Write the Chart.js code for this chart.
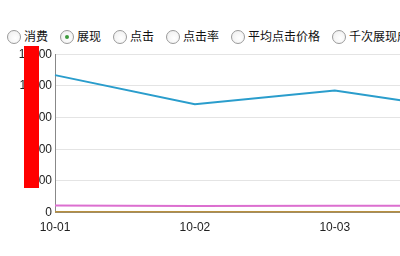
<!DOCTYPE html>
<html>
<head>
<meta charset="utf-8">
<script src="https://cdn.jsdelivr.net/npm/chart.js@4"></script>
<style>
  body { margin: 0; background: #fff; width: 400px; height: 256px; overflow: hidden; position: relative; }
  #radios { position: absolute; left: 7px; top: 27px; white-space: nowrap; font: 12px/18px "Noto Sans CJK SC", sans-serif; color: #111; }
  #radios span { display: inline-block; margin-right: 12px; }
  #radios i { display: inline-block; width: 14px; height: 14px; border: 1px solid #9a9a9a; border-radius: 50%; vertical-align: -3px; margin-right: 3px; box-sizing: border-box; background: radial-gradient(circle at 60% 60%, #ffffff 0, #ececec 100%); position: relative; }
  #radios i.on::after { content: ""; position: absolute; left: 4px; top: 4px; width: 4px; height: 4px; border-radius: 50%; background: #3c9a3c; }
  #wrap { position: absolute; left: 0; top: 44px; width: 400px; height: 199px; overflow: hidden; }
  #redact { position: absolute; left: 24px; top: 46px; width: 15px; height: 142px; background: #f00; }
</style>
</head>
<body>
<div id="radios"></div>
<div id="wrap"><div style="width:498px;height:199px"><canvas id="lineChart"></canvas></div></div>
<div id="redact"></div>
<script>
// radio style selector above the chart
const options = ["消费", "展现", "点击", "点击率", "平均点击价格", "千次展现成本"];
const selected = "展现";

const dates = ["10-01", "10-02", "10-03", "10-04"];
const impressions = [12150, 9580, 10800, 8950];
const clicks = [620, 590, 610, 600];
const cost = [50, 45, 48, 46];

const yMax = 14000;
const yStep = 2800;

document.getElementById("radios").innerHTML = options
  .map((o) => `<span><i class="${o === selected ? "on" : ""}"></i>${o}</span>`)
  .join("");

const ctx = document.getElementById("lineChart").getContext("2d");
new Chart(ctx, {
  type: "line",
  data: {
    labels: dates,
    datasets: [
      { label: "展现", data: impressions, borderColor: "#2a9dcc", borderWidth: 2, pointRadius: 0, tension: 0 },
      { label: "点击", data: clicks, borderColor: "#dc6fd0", borderWidth: 2, pointRadius: 0, tension: 0 },
      { label: "消费", data: cost, borderColor: "#b89040", borderWidth: 2, pointRadius: 0, tension: 0 },
    ],
  },
  options: {
    responsive: true,
    maintainAspectRatio: false,
    animation: false,
    layout: { padding: { top: 10, right: 20 } },
    plugins: { legend: { display: false }, tooltip: { enabled: false } },
    scales: {
      x: {
        grid: { display: false, drawTicks: false },
        border: { color: "#888" },
        ticks: { color: "#222", font: { family: "Liberation Sans", size: 12 }, padding: 8, maxRotation: 0 },
      },
      y: {
        min: 0,
        max: yMax,
        ticks: { stepSize: yStep, color: "#222", font: { family: "Liberation Sans", size: 12 }, padding: 3, callback: (v) => String(v) },
        grid: { color: "#e4e4e4", drawTicks: false },
        border: { color: "#888" },
        afterFit: (s) => { s.width = 55; },
      },
    },
  },
});
</script>
</body>
</html>
